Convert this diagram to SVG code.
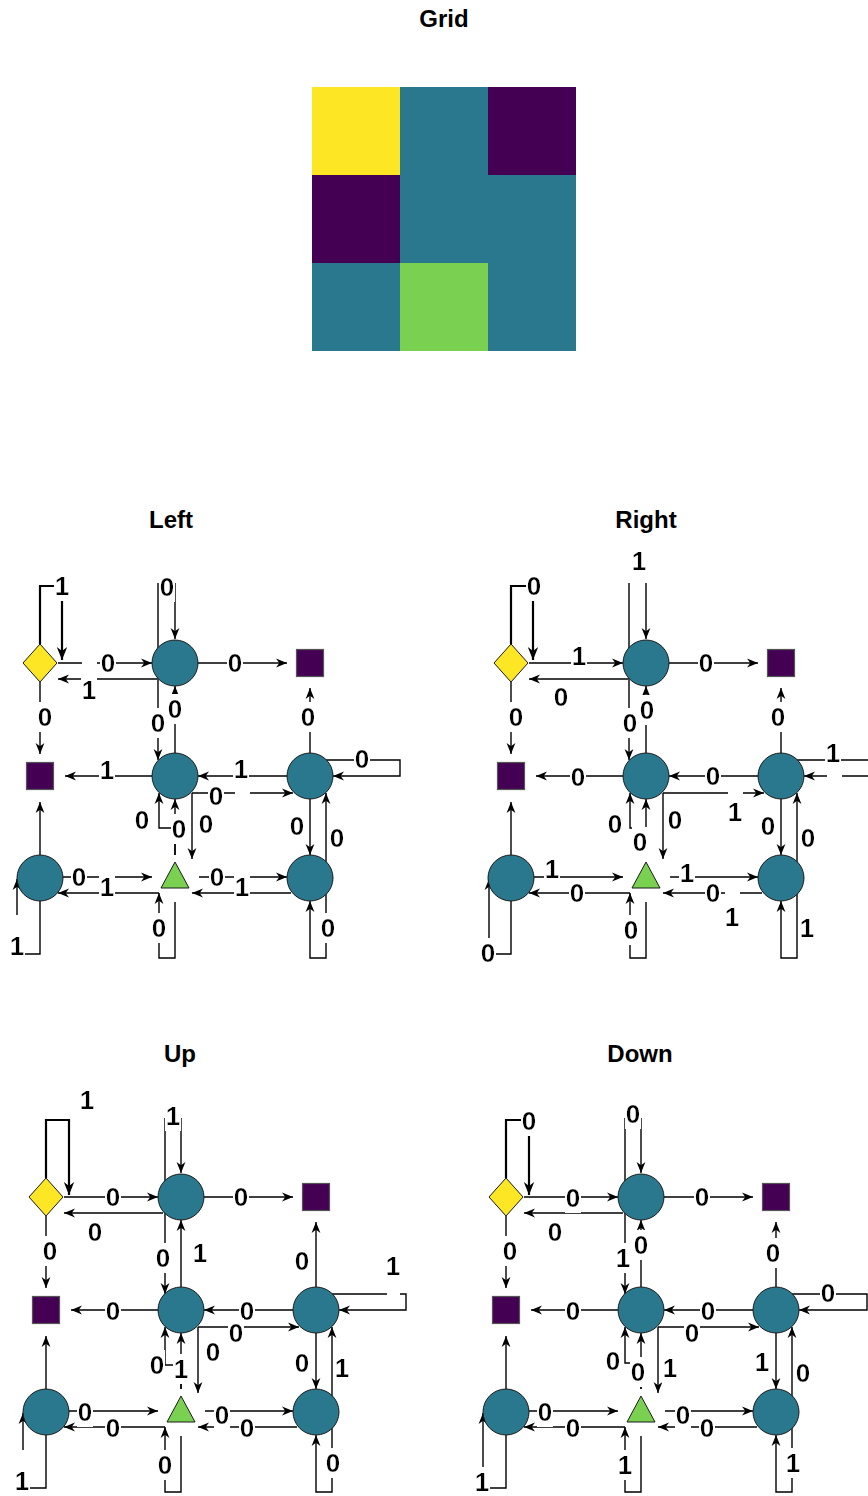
<svg xmlns="http://www.w3.org/2000/svg" width="868" height="1496" viewBox="0 0 868 1496">
<defs>
<marker id="ah" viewBox="0 0 10 10" refX="10" refY="5" markerWidth="11" markerHeight="11" markerUnits="userSpaceOnUse" orient="auto"><path d="M0,1 L10,5 L0,9 L3,5 Z" fill="#000"/></marker>
<marker id="ahb" viewBox="0 0 10 10" refX="10" refY="5" markerWidth="13" markerHeight="13" markerUnits="userSpaceOnUse" orient="auto"><path d="M0,1 L10,5 L0,9 L3,5 Z" fill="#000"/></marker>
<filter id="bg" x="0" y="0" width="1" height="1"><feFlood flood-color="#ffffff"/><feComposite in="SourceGraphic" operator="over"/></filter>
</defs>
<style>
.e{fill:none;stroke:#000;stroke-width:1.4;marker-end:url(#ah)}
.t{stroke-width:2.2;marker-end:url(#ahb)}
.l{font-family:"Liberation Sans",Arial,sans-serif;font-weight:700;font-size:26px;text-anchor:middle;fill:#000;filter:url(#bg)}
.ttl{font-family:"Liberation Sans",Arial,sans-serif;font-weight:700;font-size:24px;text-anchor:middle;fill:#000}
.c{fill:#2a788e;stroke:#1a1a1a;stroke-width:1}
.sq{fill:#440154;stroke:#555;stroke-width:1.2}
.dm{fill:#fde725;stroke:#1a1a1a;stroke-width:1}
.tr{fill:#7ad151;stroke:#1a1a1a;stroke-width:1}
</style>
<rect width="868" height="1496" fill="#fff"/>

<g id="grid">
<text class="ttl" x="444" y="27">Grid</text>
<rect x="312" y="87" width="88" height="88" fill="#fde725"/>
<rect x="400" y="87" width="88" height="88" fill="#2a788e"/>
<rect x="488" y="87" width="88" height="88" fill="#440154"/>
<rect x="312" y="175" width="88" height="88" fill="#440154"/>
<rect x="400" y="175" width="88" height="88" fill="#2a788e"/>
<rect x="488" y="175" width="88" height="88" fill="#2a788e"/>
<rect x="312" y="263" width="88" height="88" fill="#2a788e"/>
<rect x="400" y="263" width="88" height="88" fill="#7ad151"/>
<rect x="488" y="263" width="88" height="88" fill="#2a788e"/>
</g>

<text class="ttl" x="171" y="528">Left</text>
<text class="ttl" x="646" y="528">Right</text>
<text class="ttl" x="180" y="1062">Up</text>
<text class="ttl" x="640" y="1062">Down</text>

<!-- LEFT -->
<g id="panel-left">
<g id="left-connectors">
<path class="e t" d="M40,644 V586 H62 V660"/>
<path class="e" d="M58,663 H82 M97,663 H152"/>
<path class="e" d="M157,679 H58"/>
<path class="e" d="M198,663 H287"/>
<path class="e" d="M310,753 V688"/>
<path class="e" d="M40,682 V754"/>
<path class="e" d="M158,660 V583 M175,583 V639"/>
<path class="e" d="M158,666 V760"/>
<path class="e" d="M175,753 V686"/>
<path class="e" d="M152,776 H65"/>
<path class="e" d="M287,776 H198"/>
<path class="e" d="M326,760 H400 V776 H333"/>
<path class="e" d="M192,793 H235 M250,793 H293"/>
<path class="e" d="M192,793 V859"/>
<path class="e" d="M175,855 V799"/>
<path class="e" d="M175,855 V828 H159 V793"/>
<path class="e" d="M310,799 V855"/>
<path class="e" d="M326,894 V793"/>
<path class="e" d="M326,894 V958 H310 V901"/>
<path class="e" d="M175,902 V958 H159 V893"/>
<path class="e" d="M63,877 H152"/>
<path class="e" d="M159,893 H58"/>
<path class="e" d="M199,877 H287"/>
<path class="e" d="M291,893 H192"/>
<path class="e" d="M40,901 V954 H17 M17,915 V879"/>
<path class="e" d="M40,855 V802"/>
<text class="l" x="62" y="595">1</text>
<text class="l" x="108" y="672">0</text>
<text class="l" x="89" y="699">1</text>
<text class="l" x="235" y="672">0</text>
<text class="l" x="308" y="726">0</text>
<text class="l" x="45" y="726">0</text>
<text class="l" x="167" y="596">0</text>
<text class="l" x="158" y="732">0</text>
<text class="l" x="175" y="718">0</text>
<text class="l" x="107" y="779">1</text>
<text class="l" x="241" y="778">1</text>
<text class="l" x="362" y="768">0</text>
<text class="l" x="216" y="805">0</text>
<text class="l" x="206" y="833">0</text>
<text class="l" x="179" y="838">0</text>
<text class="l" x="142" y="829">0</text>
<text class="l" x="297" y="835">0</text>
<text class="l" x="337" y="847">0</text>
<text class="l" x="328" y="937">0</text>
<text class="l" x="159" y="937">0</text>
<text class="l" x="79" y="886">0</text>
<text class="l" x="107" y="896">1</text>
<text class="l" x="217" y="886">0</text>
<text class="l" x="242" y="896">1</text>
<text class="l" x="17" y="955">1</text>
</g>
<g id="L-n0"><polygon class="dm" points="40,644 57,663 40,682 23,663"/></g>
<g id="L-n1"><circle class="c" cx="175" cy="663" r="23"/></g>
<g id="L-n2"><rect class="sq" x="296.5" y="649.5" width="27" height="27"/></g>
<g id="L-n3"><rect class="sq" x="26.5" y="762.5" width="27" height="27"/></g>
<g id="L-n4"><circle class="c" cx="175" cy="776" r="23"/></g>
<g id="L-n5"><circle class="c" cx="310" cy="776" r="23"/></g>
<g id="L-n6"><circle class="c" cx="40" cy="878" r="23"/></g>
<g id="L-n7"><polygon class="tr" points="175,862 189,888 161,888"/></g>
<g id="L-n8"><circle class="c" cx="310" cy="878" r="23"/></g>
</g>

<!-- RIGHT -->
<g id="panel-right" transform="translate(471,0)">
<g id="right-connectors">
<path class="e t" d="M40,644 V586 H62 V660"/>
<path class="e" d="M58,663 H152"/>
<path class="e" d="M157,679 H58"/>
<path class="e" d="M198,663 H287"/>
<path class="e" d="M310,753 V688"/>
<path class="e" d="M40,682 V754"/>
<path class="e" d="M158,660 V583 M175,583 V639"/>
<path class="e" d="M158,666 V760"/>
<path class="e" d="M175,753 V686"/>
<path class="e" d="M152,776 H65"/>
<path class="e" d="M287,776 H198"/>
<path class="e" d="M326,760 H400 V776 H371 M356,776 H333"/>
<path class="e" d="M192,793 H257 M272,793 H293"/>
<path class="e" d="M192,793 V859"/>
<path class="e" d="M175,855 V799"/>
<path class="e" d="M175,855 V828 H159 V793"/>
<path class="e" d="M310,799 V855"/>
<path class="e" d="M326,894 V793"/>
<path class="e" d="M326,894 V958 H310 V901"/>
<path class="e" d="M175,902 V958 H159 V893"/>
<path class="e" d="M63,877 H152"/>
<path class="e" d="M159,893 H58"/>
<path class="e" d="M199,877 H287"/>
<path class="e" d="M291,893 H269 M254,893 H192"/>
<path class="e" d="M40,901 V954 H18 V879"/>
<path class="e" d="M40,855 V802"/>
<text class="l" x="63" y="595">0</text>
<text class="l" x="108" y="665">1</text>
<text class="l" x="90" y="706">0</text>
<text class="l" x="235" y="672">0</text>
<text class="l" x="307" y="726">0</text>
<text class="l" x="45" y="726">0</text>
<text class="l" x="168" y="570">1</text>
<text class="l" x="159" y="732">0</text>
<text class="l" x="176" y="719">0</text>
<text class="l" x="107" y="786">0</text>
<text class="l" x="242" y="785">0</text>
<text class="l" x="362" y="762">1</text>
<text class="l" x="264" y="821">1</text>
<text class="l" x="204" y="829">0</text>
<text class="l" x="169" y="851">0</text>
<text class="l" x="144" y="833">0</text>
<text class="l" x="297" y="835">0</text>
<text class="l" x="337" y="847">0</text>
<text class="l" x="336" y="937">1</text>
<text class="l" x="160" y="939">0</text>
<text class="l" x="81" y="878">1</text>
<text class="l" x="106" y="902">0</text>
<text class="l" x="216" y="882">1</text>
<text class="l" x="242" y="902">0</text>
<text class="l" x="261" y="926">1</text>
<text class="l" x="17" y="962">0</text>
</g>
<g id="R-n0"><polygon class="dm" points="40,644 57,663 40,682 23,663"/></g>
<g id="R-n1"><circle class="c" cx="175" cy="663" r="23"/></g>
<g id="R-n2"><rect class="sq" x="296.5" y="649.5" width="27" height="27"/></g>
<g id="R-n3"><rect class="sq" x="26.5" y="762.5" width="27" height="27"/></g>
<g id="R-n4"><circle class="c" cx="175" cy="776" r="23"/></g>
<g id="R-n5"><circle class="c" cx="310" cy="776" r="23"/></g>
<g id="R-n6"><circle class="c" cx="40" cy="878" r="23"/></g>
<g id="R-n7"><polygon class="tr" points="175,862 189,888 161,888"/></g>
<g id="R-n8"><circle class="c" cx="310" cy="878" r="23"/></g>
</g>

<!-- UP -->
<g id="panel-up" transform="translate(6,534)">
<g id="up-connectors">
<path class="e t" d="M40,644 V586 H63 V661"/>
<path class="e" d="M58,663 H152"/>
<path class="e" d="M157,679 H58"/>
<path class="e" d="M198,663 H287"/>
<path class="e" d="M310,753 V688"/>
<path class="e" d="M40,682 V754"/>
<path class="e" d="M159,660 V584 M175,584 V639"/>
<path class="e" d="M159,666 V760"/>
<path class="e" d="M175,753 V686"/>
<path class="e" d="M152,776 H65"/>
<path class="e" d="M287,776 H198"/>
<path class="e" d="M326,760 H381 M394,760 H400 V776 H333"/>
<path class="e" d="M192,793 H293"/>
<path class="e" d="M192,793 V859"/>
<path class="e" d="M175,855 V799"/>
<path class="e" d="M175,855 V831 H159 V793"/>
<path class="e" d="M310,799 V855"/>
<path class="e" d="M326,894 V793"/>
<path class="e" d="M326,894 V958 H310 V901"/>
<path class="e" d="M175,902 V958 H159 V893"/>
<path class="e" d="M63,877 H152"/>
<path class="e" d="M159,893 H58"/>
<path class="e" d="M199,877 H287"/>
<path class="e" d="M291,893 H192"/>
<path class="e" d="M40,901 V954 H17 M17,916 V879"/>
<path class="e" d="M40,855 V802"/>
<text class="l" x="81" y="575">1</text>
<text class="l" x="107" y="672">0</text>
<text class="l" x="89" y="707">0</text>
<text class="l" x="235" y="672">0</text>
<text class="l" x="296" y="736">0</text>
<text class="l" x="44" y="726">0</text>
<text class="l" x="167" y="591">1</text>
<text class="l" x="157" y="733">0</text>
<text class="l" x="194" y="728">1</text>
<text class="l" x="107" y="786">0</text>
<text class="l" x="241" y="786">0</text>
<text class="l" x="387" y="741">1</text>
<text class="l" x="230" y="808">0</text>
<text class="l" x="207" y="827">0</text>
<text class="l" x="175" y="844">1</text>
<text class="l" x="151" y="840">0</text>
<text class="l" x="296" y="838">0</text>
<text class="l" x="336" y="843">1</text>
<text class="l" x="327" y="938">0</text>
<text class="l" x="159" y="940">0</text>
<text class="l" x="79" y="887">0</text>
<text class="l" x="107" y="903">0</text>
<text class="l" x="216" y="890">0</text>
<text class="l" x="241" y="903">0</text>
<text class="l" x="16" y="956">1</text>
</g>
<g id="U-n0"><polygon class="dm" points="40,644 57,663 40,682 23,663"/></g>
<g id="U-n1"><circle class="c" cx="175" cy="663" r="23"/></g>
<g id="U-n2"><rect class="sq" x="296.5" y="649.5" width="27" height="27"/></g>
<g id="U-n3"><rect class="sq" x="26.5" y="762.5" width="27" height="27"/></g>
<g id="U-n4"><circle class="c" cx="175" cy="776" r="23"/></g>
<g id="U-n5"><circle class="c" cx="310" cy="776" r="23"/></g>
<g id="U-n6"><circle class="c" cx="40" cy="878" r="23"/></g>
<g id="U-n7"><polygon class="tr" points="175,862 189,888 161,888"/></g>
<g id="U-n8"><circle class="c" cx="310" cy="878" r="23"/></g>
</g>

<!-- DOWN -->
<g id="panel-down" transform="translate(466,534)">
<g id="down-connectors">
<path class="e t" d="M40,644 V586 H63 V661"/>
<path class="e" d="M58,663 H152"/>
<path class="e" d="M157,679 H58"/>
<path class="e" d="M198,663 H287"/>
<path class="e" d="M310,753 V688"/>
<path class="e" d="M40,682 V754"/>
<path class="e" d="M159,660 V584 M175,584 V639"/>
<path class="e" d="M159,666 V760"/>
<path class="e" d="M175,753 V686"/>
<path class="e" d="M152,776 H65"/>
<path class="e" d="M287,776 H198"/>
<path class="e" d="M326,760 H401 V776 H333"/>
<path class="e" d="M192,793 H293"/>
<path class="e" d="M192,793 V859"/>
<path class="e" d="M175,855 V799"/>
<path class="e" d="M175,855 V829 H159 V793"/>
<path class="e" d="M310,799 V855"/>
<path class="e" d="M326,894 V793"/>
<path class="e" d="M326,894 V958 H310 V901"/>
<path class="e" d="M175,902 V958 H159 V893"/>
<path class="e" d="M63,877 H152"/>
<path class="e" d="M159,893 H58"/>
<path class="e" d="M199,877 H287"/>
<path class="e" d="M291,893 H192"/>
<path class="e" d="M40,901 V954 H17 V879"/>
<path class="e" d="M40,855 V802"/>
<text class="l" x="63" y="596">0</text>
<text class="l" x="107" y="673">0</text>
<text class="l" x="89" y="707">0</text>
<text class="l" x="236" y="672">0</text>
<text class="l" x="307" y="728">0</text>
<text class="l" x="44" y="726">0</text>
<text class="l" x="167" y="589">0</text>
<text class="l" x="157" y="733">1</text>
<text class="l" x="175" y="720">0</text>
<text class="l" x="107" y="786">0</text>
<text class="l" x="242" y="786">0</text>
<text class="l" x="362" y="768">0</text>
<text class="l" x="226" y="808">0</text>
<text class="l" x="204" y="843">1</text>
<text class="l" x="172" y="847">0</text>
<text class="l" x="147" y="836">0</text>
<text class="l" x="296" y="837">1</text>
<text class="l" x="337" y="848">0</text>
<text class="l" x="327" y="938">1</text>
<text class="l" x="159" y="940">1</text>
<text class="l" x="79" y="887">0</text>
<text class="l" x="107" y="903">0</text>
<text class="l" x="217" y="890">0</text>
<text class="l" x="241" y="903">0</text>
<text class="l" x="16" y="957">1</text>
</g>
<g id="D-n0"><polygon class="dm" points="40,644 57,663 40,682 23,663"/></g>
<g id="D-n1"><circle class="c" cx="175" cy="663" r="23"/></g>
<g id="D-n2"><rect class="sq" x="296.5" y="649.5" width="27" height="27"/></g>
<g id="D-n3"><rect class="sq" x="26.5" y="762.5" width="27" height="27"/></g>
<g id="D-n4"><circle class="c" cx="175" cy="776" r="23"/></g>
<g id="D-n5"><circle class="c" cx="310" cy="776" r="23"/></g>
<g id="D-n6"><circle class="c" cx="40" cy="878" r="23"/></g>
<g id="D-n7"><polygon class="tr" points="175,862 189,888 161,888"/></g>
<g id="D-n8"><circle class="c" cx="310" cy="878" r="23"/></g>
</g>
</svg>
